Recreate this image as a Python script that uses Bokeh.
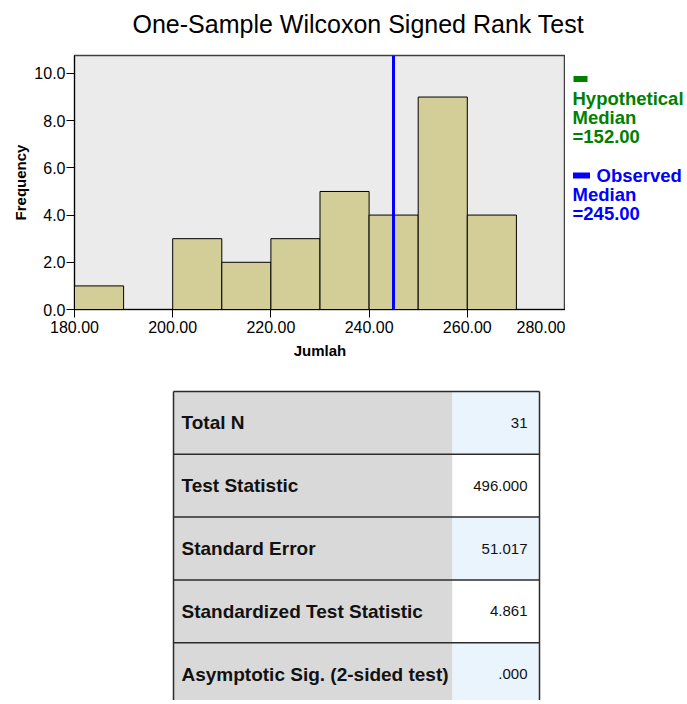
from bokeh.plotting import figure
from bokeh.models import Range1d, FixedTicker, Title
from bokeh.layouts import column, row
from bokeh.embed import file_html
from bokeh.resources import INLINE
from bokeh.core.properties import value

# ---------------- data ----------------
title_text = "One-Sample Wilcoxon Signed Rank Test"
bin_left = [180, 190, 200, 210, 220, 230, 240, 250, 260]
bin_right = [190, 200, 210, 220, 230, 240, 250, 260, 270]
counts = [1, 0, 3, 2, 3, 5, 4, 9, 4]
median_values = [152.0, 245.0]
median_colors = ["#008000", "#0000ff"]
x_ticks = [180, 200, 220, 240, 260, 280]
x_tick_labels = ["180.00", "200.00", "220.00", "240.00", "260.00", "280.00"]
y_ticks = [0, 2, 4, 6, 8, 10]
y_tick_labels = ["0.0", "2.0", "4.0", "6.0", "8.0", "10.0"]
x_label = "Jumlah"
y_label = "Frequency"
legend_hyp = ["Hypothetical", "Median", "=152.00"]
legend_obs = ["Observed", "Median", "=245.00"]
table_labels = ["Total N", "Test Statistic", "Standard Error",
                "Standardized Test Statistic", "Asymptotic Sig. (2-sided test)"]
table_values = ["31", "496.000", "51.017", "4.861", ".000"]

FONT = "Liberation Sans"
FRAME_L, FRAME_R, FRAME_T, FRAME_B = 74, 565, 55, 309
TITLE_H = 50
TOP_H = 368
PAGE_W, PAGE_H = 687, 700


def bare(p):
    p.xgrid.visible = False
    p.ygrid.visible = False
    p.outline_line_color = None
    p.background_fill_color = "white"
    p.border_fill_color = "white"


# ---------------- title strip ----------------
ptitle = figure(width=PAGE_W, height=TITLE_H, x_range=Range1d(0, 1), y_range=Range1d(0, 1),
                output_backend="svg", toolbar_location=None, title=None,
                x_axis_location=None, y_axis_location=None,
                min_border_left=FRAME_L, min_border_right=PAGE_W - FRAME_R,
                min_border_top=45, min_border_bottom=0)
bare(ptitle)
ptitle.add_layout(Title(text=title_text, align="left", offset=58, standoff=26,
                        text_font=FONT, text_font_size="25px", text_font_style="normal",
                        text_color="black"), "above")

# ---------------- histogram ----------------
p1 = figure(width=FRAME_R, height=TOP_H - TITLE_H, x_range=Range1d(180, 280),
            y_range=Range1d(0, 10.76),
            output_backend="svg", toolbar_location=None, title=None,
            min_border_left=FRAME_L, min_border_right=0, min_border_top=FRAME_T - TITLE_H,
            min_border_bottom=TOP_H - FRAME_B)
p1.background_fill_color = "#ebebeb"
p1.border_fill_color = "white"
p1.outline_line_color = "#404040"
p1.outline_line_width = 1.5
p1.xgrid.visible = False
p1.ygrid.visible = False

p1.quad(left=bin_left, right=bin_right, bottom=0, top=counts,
        fill_color="#d3ce97", line_color="black", line_width=1)
p1.vspan(x=median_values, line_color=median_colors, line_width=3)

for ax, ticks, labels, lab in ((p1.xaxis[0], x_ticks, x_tick_labels, x_label),
                               (p1.yaxis[0], y_ticks, y_tick_labels, y_label)):
    ax.ticker = FixedTicker(ticks=ticks)
    ax.major_label_overrides = {t: l for t, l in zip(ticks, labels)}
    ax.minor_tick_line_color = None
    ax.major_tick_in = 0
    ax.major_tick_out = 8
    ax.major_tick_line_color = "black"
    ax.axis_line_color = "black"
    ax.major_label_text_font = FONT
    ax.major_label_text_font_size = "16px"
    ax.major_label_text_color = "black"
    ax.axis_label = lab
    ax.axis_label_text_font = FONT
    ax.axis_label_text_font_style = "bold"
    ax.axis_label_text_font_size = "15px"
    ax.axis_label_text_color = "black"
p1.xaxis[0].major_label_standoff = 3
p1.xaxis[0].axis_label_standoff = 6
p1.yaxis[0].major_label_standoff = 1
p1.yaxis[0].axis_label_standoff = 2

# ---------------- legend panel ----------------
pleg = figure(width=PAGE_W - FRAME_R, height=TOP_H - TITLE_H, x_range=Range1d(FRAME_R, PAGE_W),
              y_range=Range1d(FRAME_B, FRAME_T), output_backend="svg", toolbar_location=None,
              title=None, x_axis_location=None, y_axis_location=None,
              min_border_left=0, min_border_right=0, min_border_top=FRAME_T - TITLE_H,
              min_border_bottom=TOP_H - FRAME_B)
bare(pleg)

lx = 572
line_step = 19
hyp_y = [98 + i * line_step for i in range(len(legend_hyp))]
obs_y = [175 + i * line_step for i in range(len(legend_obs))]
pleg.rect(x=[lx + 8, lx + 9], y=[78.5, 175], width=[14, 17], height=6,
          width_units="screen", height_units="screen",
          fill_color=median_colors, line_color=None)
pleg.text(x=lx, y=hyp_y, text=legend_hyp, text_font=value(FONT), text_font_style="bold",
          text_font_size="18.5px", text_color=median_colors[0], text_baseline="middle")
pleg.text(x=[lx + 24, lx, lx], y=obs_y, text=legend_obs, text_font=value(FONT),
          text_font_style="bold", text_font_size="18.5px", text_color=median_colors[1],
          text_baseline="middle")

# ---------------- table ----------------
p2 = figure(width=PAGE_W, height=PAGE_H - TOP_H, x_range=Range1d(FRAME_L, FRAME_R),
            y_range=Range1d(PAGE_H, TOP_H),
            output_backend="svg", toolbar_location=None, title=None,
            x_axis_location=None, y_axis_location=None,
            min_border_left=FRAME_L, min_border_right=PAGE_W - FRAME_R,
            min_border_top=0, min_border_bottom=0)
bare(p2)

n = len(table_labels)
row_h = 62.8
top0 = 391.0
tops = [top0 + i * row_h for i in range(n)]
bots = [t + row_h for t in tops]
mids = [t + row_h / 2 for t in tops]
col_l, col_m, col_r = 173, 452, 539
val_fill = ["#eaf4fd" if i % 2 == 0 else "#ffffff" for i in range(n)]

p2.quad(left=col_l, right=col_m, top=tops, bottom=bots, fill_color="#d9d9d9", line_color=None)
p2.quad(left=col_m, right=col_r, top=tops, bottom=bots, fill_color=val_fill, line_color=None)
p2.segment(x0=col_l, x1=col_r, y0=tops + [bots[-1]], y1=tops + [bots[-1]],
           line_color="#2b2b2b", line_width=1.5)
p2.segment(x0=[col_l, col_r], x1=[col_l, col_r], y0=top0, y1=bots[-1],
           line_color="#2b2b2b", line_width=1.5)

p2.text(x=181, y=mids, text=table_labels, text_font=value(FONT), text_font_style="bold",
        text_font_size="19px", text_baseline="middle", text_align="left", text_color="#111111")
p2.text(x=527, y=mids, text=table_values, text_font=value(FONT),
        text_font_size="15px", text_baseline="middle", text_align="right", text_color="#111111")

layout = column(ptitle, row(p1, pleg, spacing=0), p2, spacing=0)
open("out.html", "w").write(file_html(layout, INLINE))
